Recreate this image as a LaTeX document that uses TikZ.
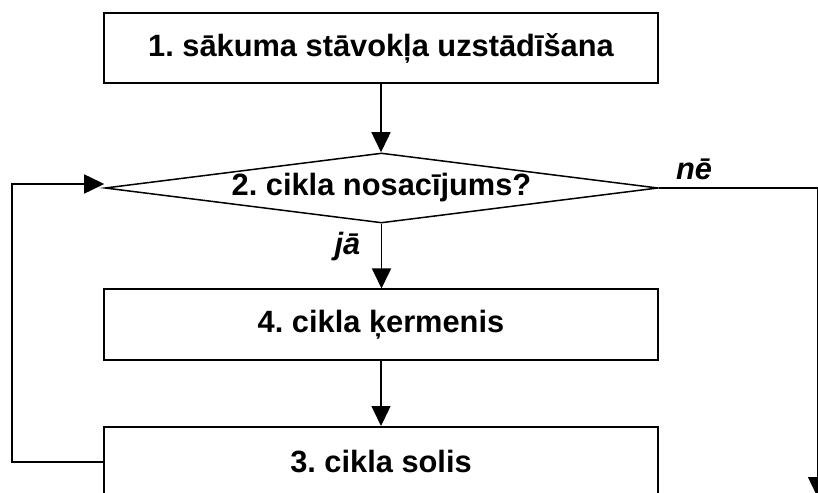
\documentclass[tikz,border=0pt]{standalone}
\usepackage{fontspec}
\setmainfont{Liberation Sans}
\frenchspacing
\usetikzlibrary{shapes.geometric,arrows.meta}
\begin{document}
\begin{tikzpicture}[x=1bp,y=-1bp,
    stepbox/.style={draw,line width=2bp,minimum width=554bp,minimum height=70bp,inner sep=0pt,
      font=\fontsize{30.8bp}{36bp}\selectfont\bfseries},
    cond/.style={draw,diamond,aspect=7.9,line width=1.5bp,minimum width=553bp,minimum height=70bp,inner sep=0pt,
      font=\fontsize{30.8bp}{36bp}\selectfont\bfseries},
    flow/.style={line width=1.5bp,-{Triangle[length=20bp,width=19bp]}},
    answer/.style={font=\fontsize{30.8bp}{36bp}\selectfont\bfseries\itshape}]
  \useasboundingbox (0,0) rectangle (818,493);
  \clip (0,0) rectangle (818,493);

  % Draw blocks
  \node[stepbox] (b1) at (381,48) {1. sākuma stāvokļa uzstādīšana};
  \node[cond] (d2) at (381.5,188) {2. cikla nosacījums?};
  \node[stepbox] (b4) at (381,324.5) {4. cikla ķermenis};
  \node[stepbox] (b3) at (381,462) {3. cikla solis};

  % Draw connectors
  \draw[flow] (b1.south) -- (b1.south |- d2.north);
  \draw[flow] (d2.south) -- (d2.south |- b4.north);
  \draw[flow] (b4.south) -- (b4.south |- b3.north);

  % loop back and exit
  \coordinate (back) at (12,184);
  \coordinate (exit) at (817.5,497);
  \draw[flow] (b3.west) -| (back) -- (d2.west |- back);
  \draw[flow] (d2.east) -| (exit);

  % Add labels
  \node[answer,anchor=base] (yes) at (347.5,255) {jā};
  \node[answer,anchor=base] (no) at (694,180) {nē};
\end{tikzpicture}
\end{document}
